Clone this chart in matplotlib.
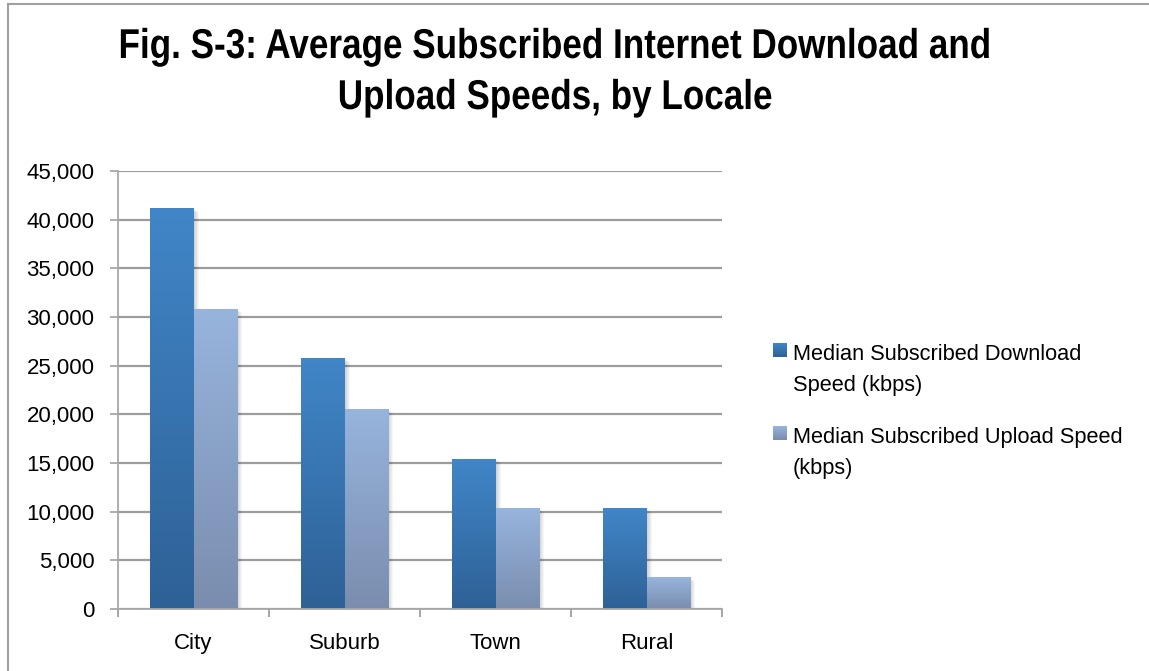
import matplotlib
matplotlib.use("Agg")
import matplotlib.pyplot as plt
import numpy as np
from matplotlib.colors import LinearSegmentedColormap
from matplotlib.lines import Line2D
from matplotlib.patches import Rectangle
from matplotlib.patheffects import AbstractPathEffect
import matplotlib.transforms as mtransforms

# ---- data -------------------------------------------------------------
locales = ["City", "Suburb", "Town", "Rural"]
download_kbps = [41100, 25700, 15400, 10300]
upload_kbps = [30800, 20500, 10300, 3200]
series_labels = [
    ["Median Subscribed Download", "Speed (kbps)"],
    ["Median Subscribed Upload Speed", "(kbps)"],
]
y_ticks = [0, 5000, 10000, 15000, 20000, 25000, 30000, 35000, 40000, 45000]
title_lines = ["Fig. S-3: Average Subscribed Internet Download and",
               "Upload Speeds, by Locale"]

plt.rcParams["font.family"] = ["Liberation Sans", "DejaVu Sans"]

# ---- colours ----------------------------------------------------------
dl_top, dl_bot = "#4186C8", "#2E6196"
ul_top, ul_bot = "#97B4DD", "#7A8DAE"
grid_col = "#9C9C9C"
axis_col = "#A8A8A8"

W, H = 1149, 671
fig = plt.figure(figsize=(W / 100, H / 100), dpi=100)
ax = fig.add_axes([118 / W, 1 - 609 / H, 604 / W, 438 / H])

x = np.arange(len(locales))
bw = 0.29


class Condense(AbstractPathEffect):
    """Squeeze glyph outlines horizontally around a fixed x (pixels)."""

    def __init__(self, sx, cx):
        super().__init__()
        self.sx, self.cx = sx, cx

    def draw_path(self, renderer, gc, tpath, affine, rgbFace=None):
        squeeze = (mtransforms.Affine2D().translate(-self.cx, 0)
                   .scale(self.sx, 1).translate(self.cx, 0))
        renderer.draw_path(gc, tpath, affine + squeeze, rgbFace)


def grad_cmap(top, bot):
    return LinearSegmentedColormap.from_list("g", [bot, top])


def draw_bars(xpos, vals, top, bot):
    bars = ax.bar(xpos, vals, width=bw, color=bot, zorder=3, linewidth=0)
    cmap = grad_cmap(top, bot)
    grad = np.linspace(1, 0, 256).reshape(-1, 1)  # first row = top of bar
    for b in bars:
        x0, w, h = b.get_x(), b.get_width(), b.get_height()
        # soft drop shadow to the right / below
        for i in range(1, 6):
            off = mtransforms.offset_copy(ax.transData, fig=fig, x=i * 0.75,
                                          y=-i * 0.45, units="points")
            ax.add_patch(Rectangle((x0, 0), w, h, transform=off, facecolor="black",
                                   alpha=0.035, linewidth=0, zorder=2))
        ax.imshow(grad, cmap=cmap, extent=[x0, x0 + w, 0, h], aspect="auto",
                  zorder=4, interpolation="bilinear", vmin=0, vmax=1)
    return bars


draw_bars(x - bw / 2, download_kbps, dl_top, dl_bot)
draw_bars(x + bw / 2, upload_kbps, ul_top, ul_bot)

ax.set_xlim(-0.5, len(locales) - 0.5)
ax.set_ylim(0, 45000)
ax.set_yticks(y_ticks)
ax.set_yticklabels([f"{v:,}" for v in y_ticks], fontsize=16)
ax.set_xticks(x)
ax.set_xticklabels(locales, fontsize=16)
ax.tick_params(axis="x", length=0, pad=17)
ax.tick_params(axis="y", length=6, width=1.3, color=axis_col, pad=11)

# category separators below the axis
for xb in np.arange(-0.5, len(locales), 1.0):
    ax.plot([xb, xb], [0, 0], marker=3, markersize=6, markeredgewidth=1.3,
            color=axis_col, clip_on=False, zorder=5)

ax.yaxis.grid(True, color=grid_col, linewidth=1.6, zorder=1)
ax.set_axisbelow(True)
for side in ["top", "right"]:
    ax.spines[side].set_visible(False)
for side in ["left", "bottom"]:
    ax.spines[side].set_color(axis_col)
    ax.spines[side].set_linewidth(1.3)
    ax.spines[side].set_zorder(5)

# ---- title (condensed bold) ---------------------------------------------
title_cx = 555
for line, base in zip(title_lines, [58, 109]):
    fig.text(title_cx / W, 1 - base / H, line, ha="center", va="baseline",
             fontsize=30, fontweight="bold",
             path_effects=[Condense(0.842, title_cx)])

# ---- legend -----------------------------------------------------------
legend_rows = [(343, dl_top, dl_bot), (426, ul_top, ul_bot)]
for (ytop, top, bot), lines in zip(legend_rows, series_labels):
    sq = fig.add_axes([773 / W, 1 - (ytop + 14) / H, 14 / W, 14 / H])
    sq.imshow(np.linspace(1, 0, 64).reshape(-1, 1), cmap=grad_cmap(top, bot),
              aspect="auto", extent=[0, 1, 0, 1], vmin=0, vmax=1)
    sq.set_axis_off()
    for k, line in enumerate(lines):
        fig.text(793 / W, 1 - (ytop + 17 + 31 * k) / H, line, ha="left", va="baseline",
                 fontsize=15.7)

# ---- outer frame (top and left edges) -----------------------------------
fig.add_artist(Line2D([8 / W, 1], [1 - 4 / H, 1 - 4 / H], transform=fig.transFigure,
                      color="#A0A0A0", linewidth=1.5))
fig.add_artist(Line2D([8 / W, 8 / W], [0, 1 - 4 / H], transform=fig.transFigure,
                      color="#A0A0A0", linewidth=1.5))

fig.savefig("out.png", dpi=100)
